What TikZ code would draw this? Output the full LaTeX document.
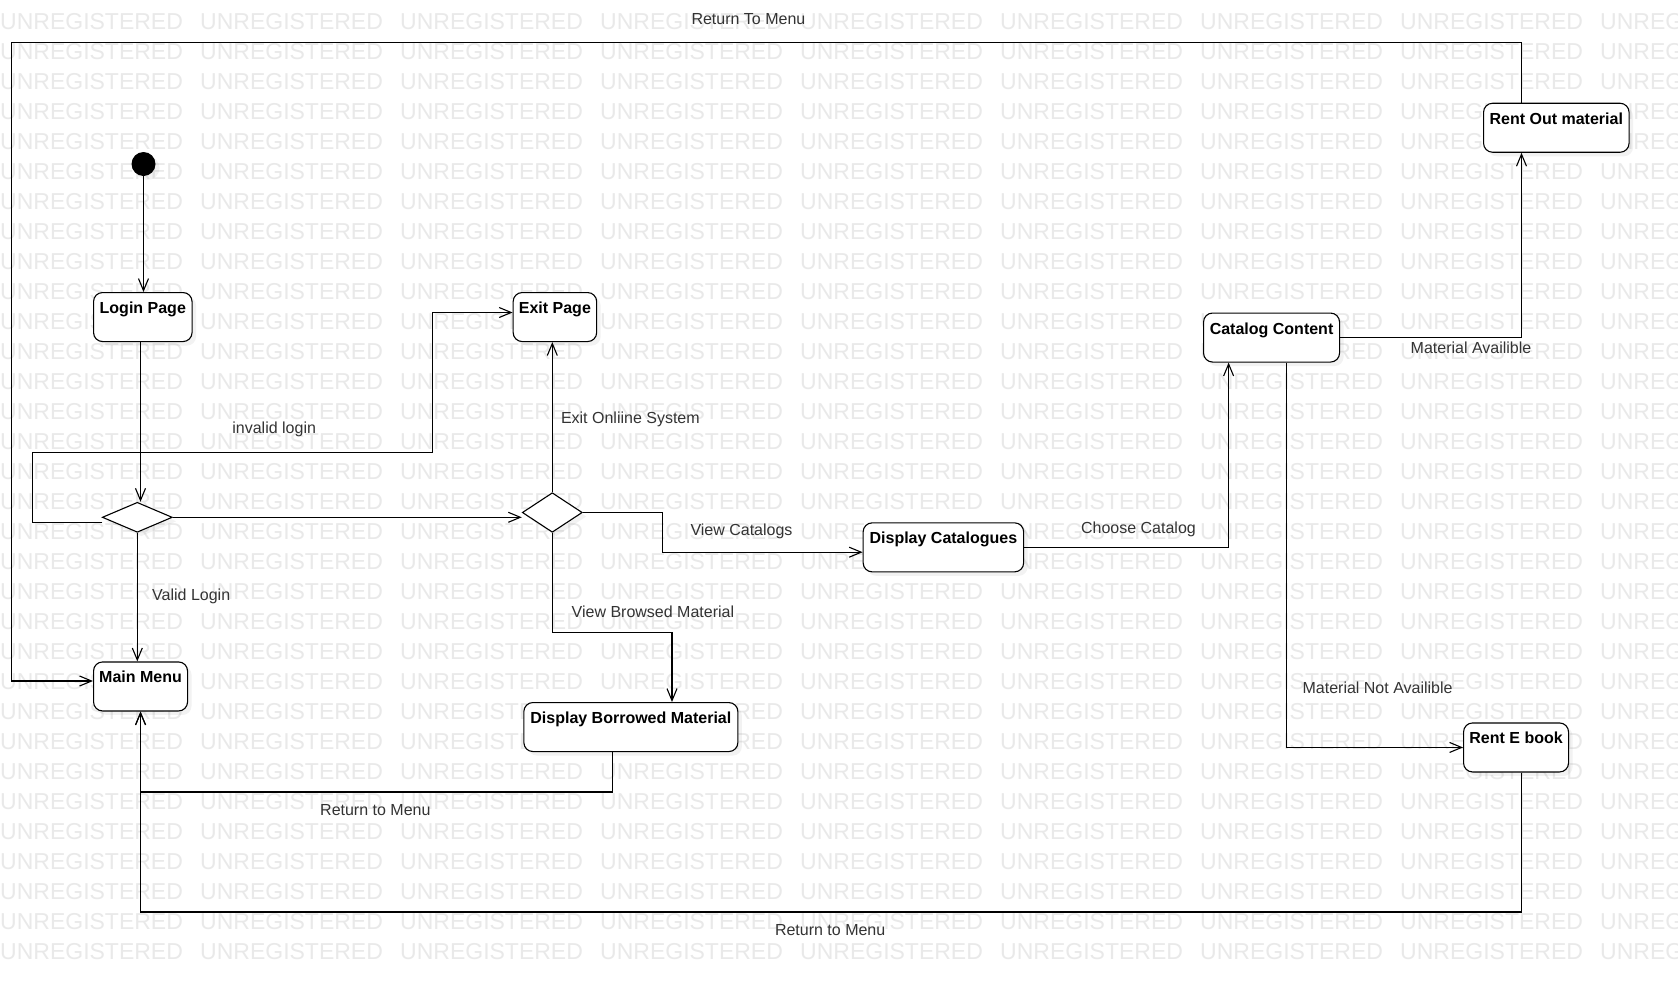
\documentclass[tikz,border=0pt]{standalone}
\usepackage{fontspec}
\setmainfont{Liberation Sans}
\usetikzlibrary{arrows.meta,shapes.geometric,shadows}

\definecolor{wmark}{RGB}{233,233,233}
\definecolor{lbl}{RGB}{51,51,51}

\begin{document}
\begin{tikzpicture}[x=1pt,y=-1pt,
  softshadow/.style={drop shadow={shadow xshift=4pt,shadow yshift=-4pt,opacity=0.10}},
  state/.style={draw, fill=white, rounded corners=9pt, line width=1.1pt,
    inner xsep=3pt, inner ysep=0pt, text height=21pt, text depth=28pt,
    font=\fontsize{16}{16}\selectfont\bfseries, anchor=north west, softshadow},
  choice/.style={diamond, draw, fill=white, line width=1.1pt, inner sep=0pt, softshadow},
  flow/.style={line width=1.1pt, -{Straight Barb[length=12pt,width=10pt]}},
  lab/.style={anchor=base west, inner sep=0pt, text=lbl, font=\fontsize{16}{16}\selectfont},
  wm/.style={anchor=base west, inner sep=0pt, text=wmark, font=\fontsize{23}{23}\selectfont}
]
\useasboundingbox (0,0) rectangle (1678,988);
\fill[white] (0,0) rectangle (1678,988);
\clip (0,0) rectangle (1678,988);

% background watermark grid
\foreach \r in {0,...,31}
  \foreach \c in {0,...,8}
    \node[wm] (wm-\r-\c) at (200*\c, 29+30*\r) {UNREGISTERED};

% initial state
\node[circle, fill=black, minimum size=24pt, inner sep=0pt, softshadow] (start) at (143.5,164) {};

% states
\node[state, minimum width=98.5pt]  (login)    at (93,292)      {Login Page};
\node[state, minimum width=83.5pt]  (exit)     at (512.6,292)   {Exit Page};
\node[state, minimum width=136pt]   (catalog)  at (1203,312.5)  {Catalog Content};
\node[state, minimum width=145.5pt] (rentout)  at (1483,102.7)  {Rent Out material};
\node[state, minimum width=160.5pt] (dispcat)  at (862.6,522.3) {Display Catalogues};
\node[state, minimum width=94pt]    (menu)     at (93,661.4)    {Main Menu};
\node[state, minimum width=214pt]   (borrowed) at (523.3,702)   {Display Borrowed Material};
\node[state, minimum width=105pt]   (ebook)    at (1463,722.4)  {Rent E book};

% decisions
\node[choice, minimum width=70pt, minimum height=30pt]  (d1) at (137.3,517.3) {};
\node[choice, minimum width=60pt, minimum height=39.6pt] (d2) at (552.3,512.5) {};

% routing corners
\coordinate (lg)   at (140.5,400);
\coordinate (inv0) at (102.3,522.3);
\coordinate (inv1) at (32.5,522.3);
\coordinate (inv2) at (32.5,452.5);
\coordinate (inv3) at (432.4,452.5);
\coordinate (inv4) at (432.4,312.5);
\coordinate (dd)   at (300,517.3);
\coordinate (vc)   at (662.4,552.2);
\coordinate (vb)   at (672,632.5);
\coordinate (rb)   at (612.2,792);
\coordinate (re)   at (1521.5,912);
\coordinate (rt1)  at (1521.5,42.8);
\coordinate (rt2)  at (11.8,681);
\coordinate (cc)   at (1228.6,545.8);
\coordinate (mn)   at (1286.5,746);

% transitions
\draw[flow] (start) -- (start |- login.north);
\draw[flow] (lg |- login.south) -- (lg |- d1.north);
\draw[flow] (d1.south) -- (d1.south |- menu.north);
\draw[flow] (d1.east) -- (d2.west |- d1.east);
\draw[flow] (inv0) -- (inv1) -- (inv2) -- (inv3) -- (inv4) -- (inv4 -| exit.west);
\draw[flow] (d2.north) -- (d2.north |- exit.south);
\draw[flow] (d2.east) -| (vc) -- (vc -| dispcat.west);
\draw[flow] (d2.south) |- (vb) -- (vb |- borrowed.north);
\draw[flow] (rb |- borrowed.south) -- (rb) -| (menu.south);
\draw[flow] (re |- ebook.south) -- (re) -| (menu.south);
\draw[flow] (rt1 |- rentout.north) -- (rt1) -| (rt2) -- (rt2 -| menu.west);
\draw[flow] (dispcat.east) -| (cc |- catalog.south);
\draw[flow] (catalog.east) -| (rt1 |- rentout.south);
\draw[flow] (mn |- catalog.south) |- (ebook.west);

% transition labels
\node[lab] (l-top)    at (691.3,24)    {Return To Menu};
\node[lab] (l-inv)    at (232.2,433.8) {invalid login};
\node[lab] (l-exit)   at (560.8,423.1) {Exit Onliine System};
\node[lab] (l-vcat)   at (690.3,535.4) {View Catalogs};
\node[lab] (l-ccat)   at (1080.9,533.3) {Choose Catalog};
\node[lab] (l-valid)  at (152,600.7)   {Valid Login};
\node[lab] (l-vbrw)   at (571.5,617.9) {View Browsed Material};
\node[lab] (l-avail)  at (1410.5,353.5) {Material Availible};
\node[lab] (l-navail) at (1302.4,693.8) {Material Not Availible};
\node[lab] (l-ret1)   at (320,815.8)   {Return to Menu};
\node[lab] (l-ret2)   at (774.8,935.7) {Return to Menu};
\end{tikzpicture}
\end{document}
